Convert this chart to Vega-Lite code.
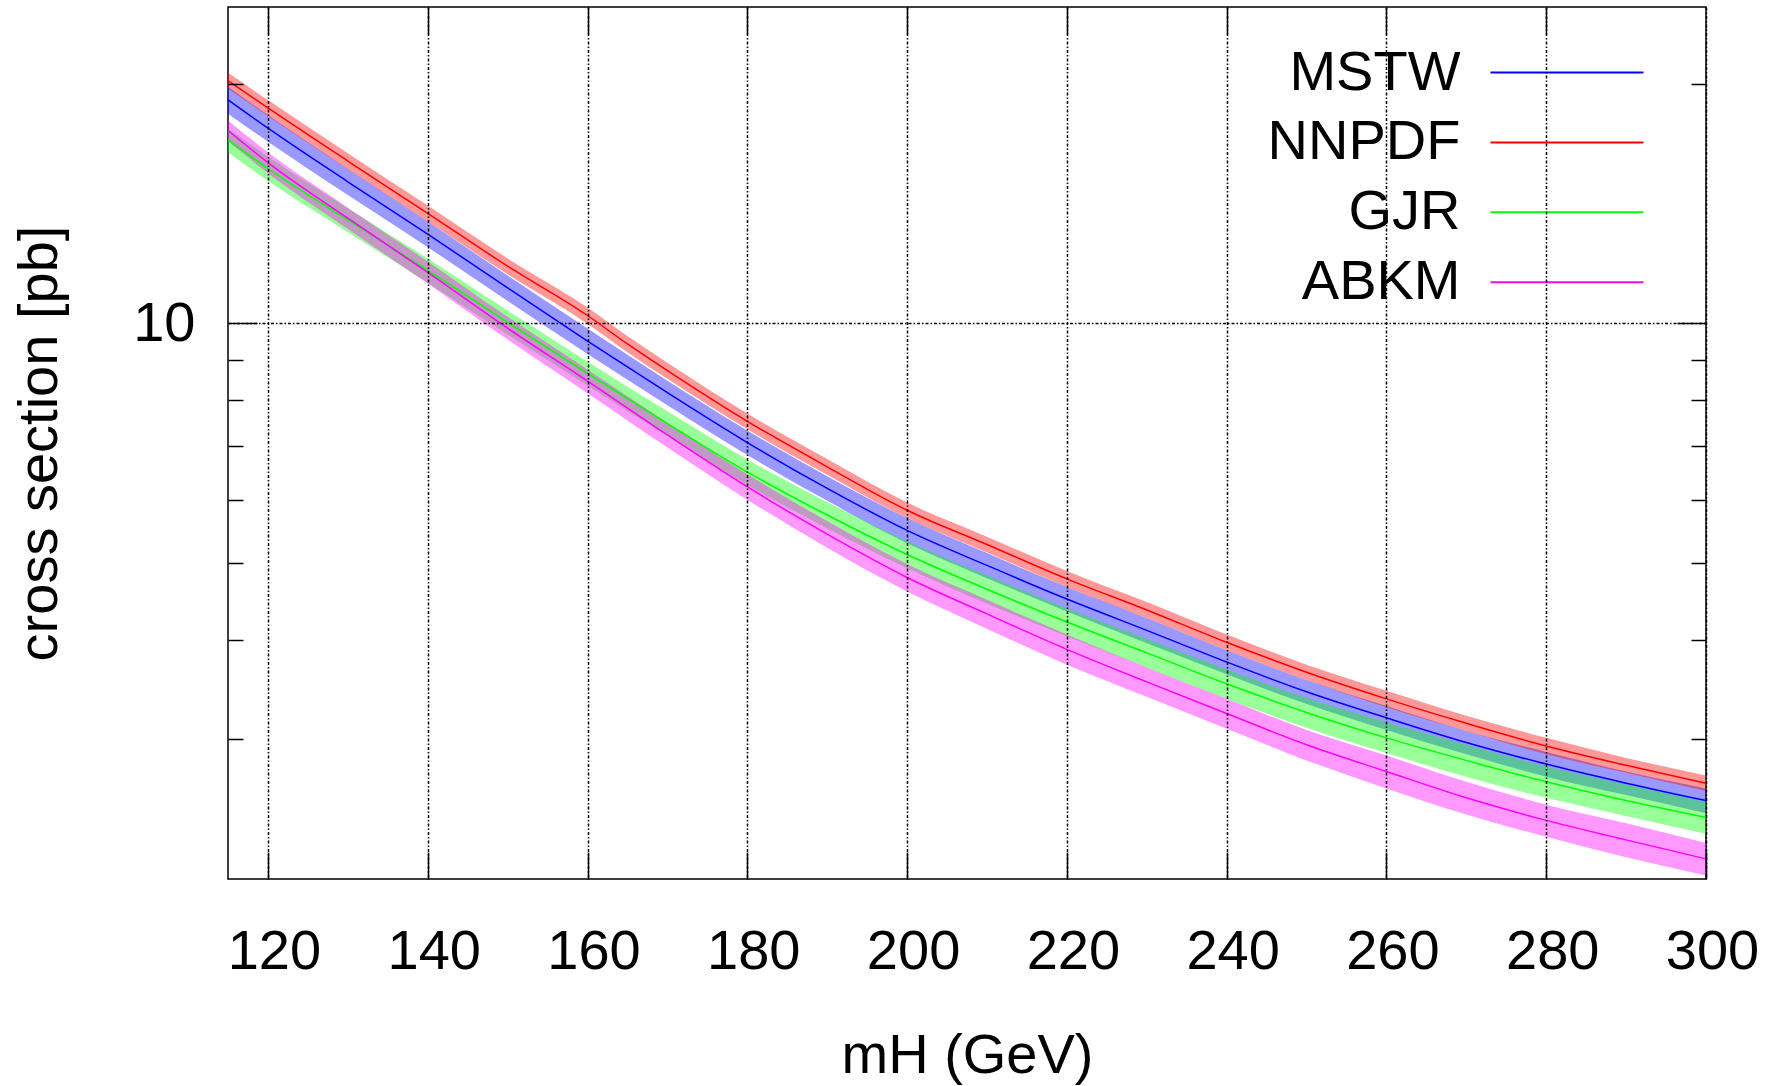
{
  "$schema": "https://vega.github.io/schema/vega-lite/v6.json",
  "width": 1478,
  "height": 872,
  "autosize": {"type": "none"},
  "padding": {"left": 228, "top": 7, "right": 71, "bottom": 207},
  "background": "white",
  "config": {"view": {"stroke": "#000", "strokeWidth": 1.5}, "font": "Liberation Sans"},
  "data": {"values": [
    {"pdf":"MSTW","m":115,"xs":19.1,"lo":18.35,"hi":19.85},
    {"pdf":"MSTW","m":120,"xs":17.6,"lo":16.92,"hi":18.28},
    {"pdf":"MSTW","m":130,"xs":15.07,"lo":14.5,"hi":15.64},
    {"pdf":"MSTW","m":140,"xs":12.95,"lo":12.47,"hi":13.43},
    {"pdf":"MSTW","m":150,"xs":11.08,"lo":10.67,"hi":11.49},
    {"pdf":"MSTW","m":160,"xs":9.5,"lo":9.15,"hi":9.85},
    {"pdf":"MSTW","m":170,"xs":8.18,"lo":7.89,"hi":8.47},
    {"pdf":"MSTW","m":180,"xs":7.08,"lo":6.83,"hi":7.33},
    {"pdf":"MSTW","m":190,"xs":6.2,"lo":5.98,"hi":6.42},
    {"pdf":"MSTW","m":200,"xs":5.49,"lo":5.29,"hi":5.69},
    {"pdf":"MSTW","m":210,"xs":4.96,"lo":4.78,"hi":5.14},
    {"pdf":"MSTW","m":220,"xs":4.5,"lo":4.34,"hi":4.66},
    {"pdf":"MSTW","m":230,"xs":4.11,"lo":3.96,"hi":4.26},
    {"pdf":"MSTW","m":240,"xs":3.75,"lo":3.62,"hi":3.88},
    {"pdf":"MSTW","m":250,"xs":3.44,"lo":3.32,"hi":3.56},
    {"pdf":"MSTW","m":260,"xs":3.19,"lo":3.08,"hi":3.3},
    {"pdf":"MSTW","m":270,"xs":2.97,"lo":2.87,"hi":3.07},
    {"pdf":"MSTW","m":280,"xs":2.79,"lo":2.69,"hi":2.89},
    {"pdf":"MSTW","m":290,"xs":2.64,"lo":2.55,"hi":2.73},
    {"pdf":"MSTW","m":300,"xs":2.51,"lo":2.42,"hi":2.6},
    {"pdf":"NNPDF","m":115,"xs":20.2,"lo":19.74,"hi":20.66},
    {"pdf":"NNPDF","m":120,"xs":18.66,"lo":18.23,"hi":19.09},
    {"pdf":"NNPDF","m":130,"xs":16.0,"lo":15.63,"hi":16.37},
    {"pdf":"NNPDF","m":140,"xs":13.75,"lo":13.43,"hi":14.07},
    {"pdf":"NNPDF","m":150,"xs":11.8,"lo":11.53,"hi":12.07},
    {"pdf":"NNPDF","m":160,"xs":10.23,"lo":9.99,"hi":10.47},
    {"pdf":"NNPDF","m":165,"xs":9.42,"lo":9.2,"hi":9.64},
    {"pdf":"NNPDF","m":170,"xs":8.72,"lo":8.52,"hi":8.92},
    {"pdf":"NNPDF","m":180,"xs":7.53,"lo":7.36,"hi":7.7},
    {"pdf":"NNPDF","m":190,"xs":6.6,"lo":6.45,"hi":6.75},
    {"pdf":"NNPDF","m":200,"xs":5.82,"lo":5.69,"hi":5.95},
    {"pdf":"NNPDF","m":210,"xs":5.27,"lo":5.15,"hi":5.39},
    {"pdf":"NNPDF","m":220,"xs":4.77,"lo":4.66,"hi":4.88},
    {"pdf":"NNPDF","m":230,"xs":4.36,"lo":4.26,"hi":4.46},
    {"pdf":"NNPDF","m":240,"xs":3.97,"lo":3.88,"hi":4.06},
    {"pdf":"NNPDF","m":250,"xs":3.64,"lo":3.56,"hi":3.72},
    {"pdf":"NNPDF","m":260,"xs":3.37,"lo":3.29,"hi":3.45},
    {"pdf":"NNPDF","m":270,"xs":3.14,"lo":3.07,"hi":3.21},
    {"pdf":"NNPDF","m":280,"xs":2.94,"lo":2.87,"hi":3.01},
    {"pdf":"NNPDF","m":290,"xs":2.78,"lo":2.72,"hi":2.84},
    {"pdf":"NNPDF","m":300,"xs":2.64,"lo":2.58,"hi":2.7},
    {"pdf":"GJR","m":115,"xs":17.0,"lo":16.41,"hi":17.6},
    {"pdf":"GJR","m":120,"xs":15.66,"lo":15.11,"hi":16.21},
    {"pdf":"GJR","m":130,"xs":13.49,"lo":13.02,"hi":13.96},
    {"pdf":"GJR","m":140,"xs":11.66,"lo":11.25,"hi":12.07},
    {"pdf":"GJR","m":150,"xs":10.03,"lo":9.68,"hi":10.38},
    {"pdf":"GJR","m":160,"xs":8.65,"lo":8.35,"hi":8.95},
    {"pdf":"GJR","m":170,"xs":7.48,"lo":7.21,"hi":7.75},
    {"pdf":"GJR","m":180,"xs":6.5,"lo":6.26,"hi":6.74},
    {"pdf":"GJR","m":190,"xs":5.74,"lo":5.52,"hi":5.96},
    {"pdf":"GJR","m":200,"xs":5.12,"lo":4.92,"hi":5.32},
    {"pdf":"GJR","m":210,"xs":4.63,"lo":4.44,"hi":4.82},
    {"pdf":"GJR","m":220,"xs":4.21,"lo":4.04,"hi":4.38},
    {"pdf":"GJR","m":230,"xs":3.85,"lo":3.69,"hi":4.01},
    {"pdf":"GJR","m":240,"xs":3.52,"lo":3.37,"hi":3.67},
    {"pdf":"GJR","m":250,"xs":3.24,"lo":3.1,"hi":3.38},
    {"pdf":"GJR","m":260,"xs":3.01,"lo":2.88,"hi":3.15},
    {"pdf":"GJR","m":270,"xs":2.82,"lo":2.69,"hi":2.95},
    {"pdf":"GJR","m":280,"xs":2.65,"lo":2.53,"hi":2.77},
    {"pdf":"GJR","m":290,"xs":2.51,"lo":2.4,"hi":2.63},
    {"pdf":"GJR","m":300,"xs":2.39,"lo":2.28,"hi":2.5},
    {"pdf":"ABKM","m":115,"xs":17.48,"lo":16.96,"hi":18.0},
    {"pdf":"ABKM","m":120,"xs":15.93,"lo":15.45,"hi":16.41},
    {"pdf":"ABKM","m":130,"xs":13.56,"lo":13.14,"hi":13.98},
    {"pdf":"ABKM","m":140,"xs":11.59,"lo":11.22,"hi":11.96},
    {"pdf":"ABKM","m":150,"xs":9.86,"lo":9.54,"hi":10.19},
    {"pdf":"ABKM","m":160,"xs":8.46,"lo":8.17,"hi":8.75},
    {"pdf":"ABKM","m":170,"xs":7.24,"lo":6.98,"hi":7.5},
    {"pdf":"ABKM","m":180,"xs":6.23,"lo":6.0,"hi":6.46},
    {"pdf":"ABKM","m":190,"xs":5.43,"lo":5.22,"hi":5.64},
    {"pdf":"ABKM","m":200,"xs":4.79,"lo":4.6,"hi":4.98},
    {"pdf":"ABKM","m":210,"xs":4.31,"lo":4.13,"hi":4.49},
    {"pdf":"ABKM","m":220,"xs":3.89,"lo":3.72,"hi":4.06},
    {"pdf":"ABKM","m":230,"xs":3.54,"lo":3.39,"hi":3.69},
    {"pdf":"ABKM","m":240,"xs":3.23,"lo":3.09,"hi":3.37},
    {"pdf":"ABKM","m":250,"xs":2.95,"lo":2.82,"hi":3.08},
    {"pdf":"ABKM","m":260,"xs":2.73,"lo":2.6,"hi":2.86},
    {"pdf":"ABKM","m":270,"xs":2.53,"lo":2.41,"hi":2.65},
    {"pdf":"ABKM","m":280,"xs":2.37,"lo":2.26,"hi":2.48},
    {"pdf":"ABKM","m":290,"xs":2.24,"lo":2.13,"hi":2.35},
    {"pdf":"ABKM","m":300,"xs":2.12,"lo":2.02,"hi":2.22}
  ]},
  "layer": [
    {
      "transform": [{"filter": "datum.pdf == 'MSTW'"}],
      "mark": {"type": "area", "color": "#0000ff", "opacity": 0.4, "interpolate": "monotone"},
      "encoding": {
        "x": {"field": "m", "type": "quantitative", "scale": {"domain": [115, 300], "nice": false, "zero": false}, "axis": null},
        "y": {"field": "lo", "type": "quantitative", "scale": {"type": "log", "domain": [2, 25], "nice": false}, "axis": null},
        "y2": {"field": "hi"}
      }
    },
    {
      "transform": [{"filter": "datum.pdf == 'GJR'"}],
      "mark": {"type": "area", "color": "#00ff00", "opacity": 0.4, "interpolate": "monotone"},
      "encoding": {
        "x": {"field": "m", "type": "quantitative", "scale": {"domain": [115, 300], "nice": false, "zero": false}, "axis": null},
        "y": {"field": "lo", "type": "quantitative", "scale": {"type": "log", "domain": [2, 25], "nice": false}, "axis": null},
        "y2": {"field": "hi"}
      }
    },
    {
      "transform": [{"filter": "datum.pdf == 'ABKM'"}],
      "mark": {"type": "area", "color": "#ff00ff", "opacity": 0.4, "interpolate": "monotone"},
      "encoding": {
        "x": {"field": "m", "type": "quantitative", "scale": {"domain": [115, 300], "nice": false, "zero": false}, "axis": null},
        "y": {"field": "lo", "type": "quantitative", "scale": {"type": "log", "domain": [2, 25], "nice": false}, "axis": null},
        "y2": {"field": "hi"}
      }
    },
    {
      "transform": [{"filter": "datum.pdf == 'NNPDF'"}],
      "mark": {"type": "area", "color": "#ff0000", "opacity": 0.4, "interpolate": "monotone"},
      "encoding": {
        "x": {"field": "m", "type": "quantitative", "scale": {"domain": [115, 300], "nice": false, "zero": false}, "axis": null},
        "y": {"field": "lo", "type": "quantitative", "scale": {"type": "log", "domain": [2, 25], "nice": false}, "axis": null},
        "y2": {"field": "hi"}
      }
    },
    {
      "mark": {"type": "line", "strokeWidth": 1.5, "interpolate": "monotone"},
      "encoding": {
        "x": {"field": "m", "type": "quantitative", "scale": {"domain": [115, 300], "nice": false, "zero": false},
          "axis": {"orient": "bottom", "values": [120, 140, 160, 180, 200, 220, 240, 260, 280, 300], "tickSize": -27, "tickColor": "#000", "tickWidth": 1.5,
            "grid": true, "gridColor": "#000", "gridDash": [3, 2, 1.5, 2], "gridWidth": 1.5, "domain": false,
            "labelFont": "Liberation Sans", "labelFontSize": 56, "labelColor": "#000", "labelPadding": 99, "labelBaseline": "middle", "labelOffset": 6, "labelFlush": false, "labelOverlap": false,
            "title": "mH (GeV)", "titleFont": "Liberation Sans", "titleFontSize": 56, "titleFontWeight": "normal", "titleColor": "#000", "titleY": 176, "titleBaseline": "middle", "zindex": 1}},
        "y": {"field": "xs", "type": "quantitative", "scale": {"type": "log", "domain": [2, 25], "nice": false},
          "axis": {"orient": "left", "values": [10], "tickSize": -29, "tickColor": "#000", "tickWidth": 1.5,
            "grid": true, "gridColor": "#000", "gridDash": [3, 2, 1.5, 2], "gridWidth": 1.5, "domain": false,
            "labelFont": "Liberation Sans", "labelFontSize": 56, "labelColor": "#000", "labelPadding": 62,
            "title": "cross section [pb]", "titleFont": "Liberation Sans", "titleFontSize": 56, "titleFontWeight": "normal", "titleColor": "#000", "titleX": -189, "titleY": 436, "titleBaseline": "middle", "zindex": 1}},
        "color": {"field": "pdf", "type": "nominal",
          "scale": {"domain": ["MSTW", "NNPDF", "GJR", "ABKM"], "range": ["#0000ff", "#ff0000", "#00ff00", "#ff00ff"]},
          "legend": {"orient": "none", "legendX": 1311, "legendY": 37.5, "title": null, "padding": 0, "rowPadding": 13.9,
            "symbolType": "M-4,0H4", "symbolSize": 1463, "symbolStrokeWidth": 2,
            "labelAlign": "right", "labelOffset": -134.5, "labelFont": "Liberation Sans", "labelFontSize": 56, "labelColor": "#000", "labelLimit": 0}}
      }
    },
    {
      "transform": [{"filter": "datum.pdf == 'MSTW'"}],
      "mark": {"type": "point", "opacity": 0},
      "encoding": {
        "x": {"field": "m", "type": "quantitative", "scale": {"domain": [115, 300], "nice": false, "zero": false},
          "axis": {"orient": "top", "values": [120, 140, 160, 180, 200, 220, 240, 260, 280], "tickSize": -27, "tickColor": "#000", "tickWidth": 1.5, "grid": false, "domain": false, "labels": false, "title": null, "zindex": 1}},
        "y": {"field": "xs", "type": "quantitative", "scale": {"type": "log", "domain": [2, 25], "nice": false},
          "axis": {"orient": "left", "values": [3, 4, 5, 6, 7, 8, 9, 20], "tickSize": -15, "tickColor": "#000", "tickWidth": 1.5, "grid": false, "domain": false, "labels": false, "title": null, "zindex": 1}}
      }
    },
    {
      "transform": [{"filter": "datum.pdf == 'MSTW'"}],
      "mark": {"type": "point", "opacity": 0},
      "encoding": {
        "x": {"field": "m", "type": "quantitative", "scale": {"domain": [115, 300], "nice": false, "zero": false}, "axis": null},
        "y": {"field": "xs", "type": "quantitative", "scale": {"type": "log", "domain": [2, 25], "nice": false},
          "axis": {"orient": "right", "values": [10], "tickSize": -29, "tickColor": "#000", "tickWidth": 1.5, "grid": false, "domain": false, "labels": false, "title": null, "zindex": 1}}
      }
    },
    {
      "transform": [{"filter": "datum.pdf == 'MSTW'"}],
      "mark": {"type": "point", "opacity": 0},
      "encoding": {
        "x": {"field": "m", "type": "quantitative", "scale": {"domain": [115, 300], "nice": false, "zero": false}, "axis": null},
        "y": {"field": "xs", "type": "quantitative", "scale": {"type": "log", "domain": [2, 25], "nice": false},
          "axis": {"orient": "right", "values": [3, 4, 5, 6, 7, 8, 9, 20], "tickSize": -15, "tickColor": "#000", "tickWidth": 1.5, "grid": false, "domain": false, "labels": false, "title": null, "zindex": 1}}
      }
    }
  ],
  "resolve": {"axis": {"x": "independent", "y": "independent"}}
}
